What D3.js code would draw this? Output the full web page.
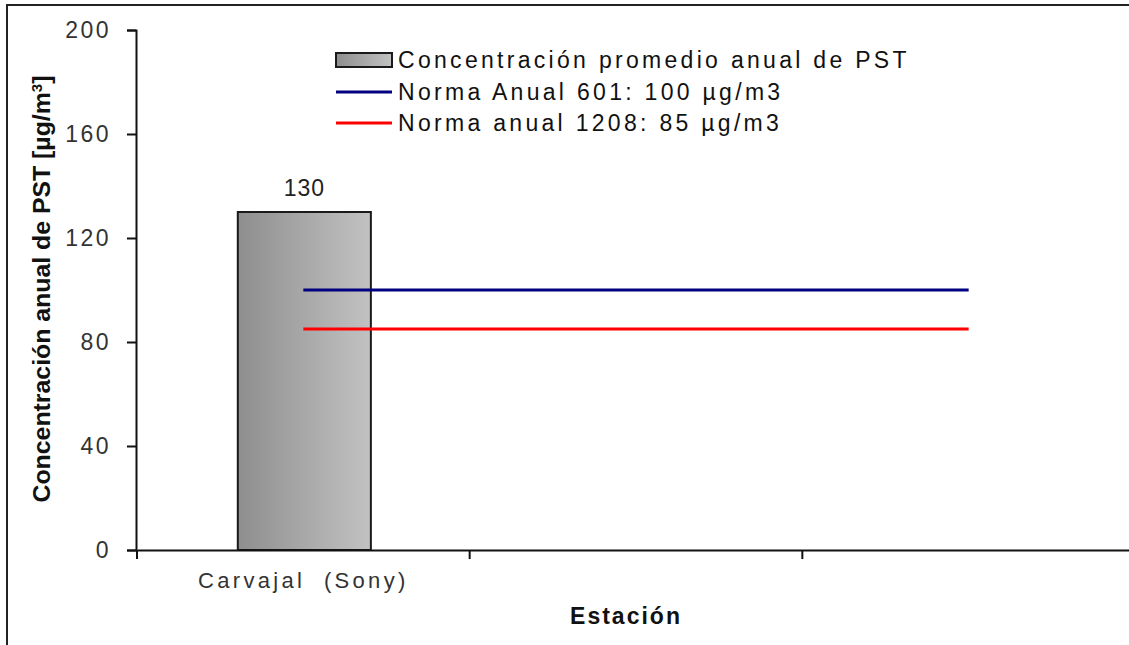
<!DOCTYPE html>
<html><head><meta charset="utf-8">
<script src="https://cdn.jsdelivr.net/npm/d3@7"></script>
<style>body{margin:0;background:#fff}svg{display:block}</style>
</head><body>
<svg id="c" width="1129" height="645"></svg>
<script>
const categories = ["Carvajal  (Sony)", "", ""];
const barValues = [130];
const norm601 = 100;
const norm1208 = 85;
const yTicks = [0, 40, 80, 120, 160, 200];
const legendLabels = ["Concentración promedio anual de PST", "Norma Anual 601: 100 µg/m3", "Norma anual 1208: 85 µg/m3"];

const svg = d3.select("#c");
const font = "'Liberation Sans', Arial, sans-serif";

// outer frame (left and top edges visible)
svg.append("line").attr("x1", 7).attr("x2", 7).attr("y1", 4).attr("y2", 645).attr("stroke", "#222").attr("stroke-width", 2);
svg.append("line").attr("x1", 6).attr("x2", 1129).attr("y1", 5).attr("y2", 5).attr("stroke", "#222").attr("stroke-width", 2);

const x = d3.scaleBand().domain(d3.range(categories.length)).range([137, 1135]).paddingInner(0).paddingOuter(0);
const y = d3.scaleLinear().domain([0, 200]).range([550, 30]);

const defs = svg.append("defs");
const g = defs.append("linearGradient").attr("id", "barg").attr("x1", "0").attr("x2", "1").attr("y1", "0").attr("y2", "0");
g.append("stop").attr("offset", "0").attr("stop-color", "#8e8e8e");
g.append("stop").attr("offset", "0.5").attr("stop-color", "#a8a8a8");
g.append("stop").attr("offset", "1").attr("stop-color", "#c2c2c2");

// bar
const bw = x.bandwidth() * 0.4;
svg.selectAll("rect.bar").data(barValues).enter().append("rect")
  .attr("class", "bar")
  .attr("x", (d, i) => x(i) + x.bandwidth() / 2 - bw / 2 + 1)
  .attr("y", d => y(d))
  .attr("width", bw)
  .attr("height", d => y(0) - y(d))
  .attr("fill", "url(#barg)").attr("stroke", "#1a1a1a").attr("stroke-width", 2);

svg.selectAll("text.val").data(barValues).enter().append("text")
  .attr("x", (d, i) => x(i) + x.bandwidth() / 2 + 1)
  .attr("y", d => y(d) - 16)
  .attr("text-anchor", "middle").attr("font-family", font).attr("font-size", 23)
  .attr("letter-spacing", 1).attr("fill", "#222").text(d => d);

// norm lines
const cx = i => x(i) + x.bandwidth() / 2;
const normLines = [{v: norm601, c: "#000080"}, {v: norm1208, c: "#ff0000"}];
svg.selectAll("line.norm").data(normLines).enter().append("line")
  .attr("x1", cx(0)).attr("x2", cx(2))
  .attr("y1", d => y(d.v)).attr("y2", d => y(d.v))
  .attr("stroke", d => d.c).attr("stroke-width", 3);

// y axis
const ya = svg.append("g").attr("transform", "translate(136,0)")
  .call(d3.axisLeft(y).tickValues(yTicks).tickSize(9).tickPadding(16));
ya.select(".domain").attr("stroke", "#111").attr("stroke-width", 2);
ya.selectAll(".tick line").attr("stroke", "#111").attr("stroke-width", 2);
ya.selectAll(".tick text").attr("font-family", font).attr("font-size", 23)
  .attr("letter-spacing", 2.5).attr("fill", "#333");

// x axis
const xa = svg.append("g").attr("transform", "translate(0,550)")
  .call(d3.axisBottom(x).tickSize(0).tickFormat(i => categories[i]).tickPadding(22));
xa.select(".domain").attr("stroke", "#111").attr("stroke-width", 2);
xa.selectAll(".tick text").attr("font-family", font).attr("font-size", 22)
  .attr("letter-spacing", 3.3).attr("fill", "#333").style("white-space", "pre");
// boundary ticks
xa.selectAll("line.bt").data(d3.range(categories.length + 1)).enter().append("line")
  .attr("class", "bt")
  .attr("x1", i => i < categories.length ? x(i) : x(categories.length - 1) + x.bandwidth())
  .attr("x2", i => i < categories.length ? x(i) : x(categories.length - 1) + x.bandwidth())
  .attr("y1", 0).attr("y2", 9).attr("stroke", "#111").attr("stroke-width", 2);

// axis titles
svg.append("text").attr("x", 626).attr("y", 624).attr("text-anchor", "middle")
  .attr("font-family", font).attr("font-weight", "bold").attr("font-size", 23)
  .attr("letter-spacing", 2).attr("fill", "#111").text("Estación");

const yt = svg.append("text").attr("transform", "translate(50,289) rotate(-90)")
  .attr("text-anchor", "middle").attr("font-family", font).attr("font-weight", "bold")
  .attr("font-size", 23).attr("fill", "#111")
  .attr("textLength", 427).attr("lengthAdjust", "spacingAndGlyphs");
yt.append("tspan").text("Concentración anual de PST [µg/m");
yt.append("tspan").attr("baseline-shift", "super").attr("font-size", 14).text("3");
yt.append("tspan").text("]");

// legend
const lg = svg.append("g").attr("transform", "translate(336,0)");
const rowsY = [60, 92, 123];
lg.append("rect").attr("x", 0).attr("y", rowsY[0] - 7).attr("width", 56).attr("height", 14)
  .attr("fill", "url(#barg)").attr("stroke", "#1a1a1a").attr("stroke-width", 2);
lg.append("line").attr("x1", 0).attr("x2", 56).attr("y1", rowsY[1]).attr("y2", rowsY[1])
  .attr("stroke", "#000080").attr("stroke-width", 3);
lg.append("line").attr("x1", 0).attr("x2", 56).attr("y1", rowsY[2]).attr("y2", rowsY[2])
  .attr("stroke", "#ff0000").attr("stroke-width", 3);
lg.selectAll("text").data(legendLabels).enter().append("text")
  .attr("x", 62).attr("y", (d, i) => rowsY[i] + 8)
  .attr("font-family", font).attr("font-size", 23).attr("letter-spacing", 3.3)
  .attr("fill", "#111").text(d => d);
</script>
</body></html>
